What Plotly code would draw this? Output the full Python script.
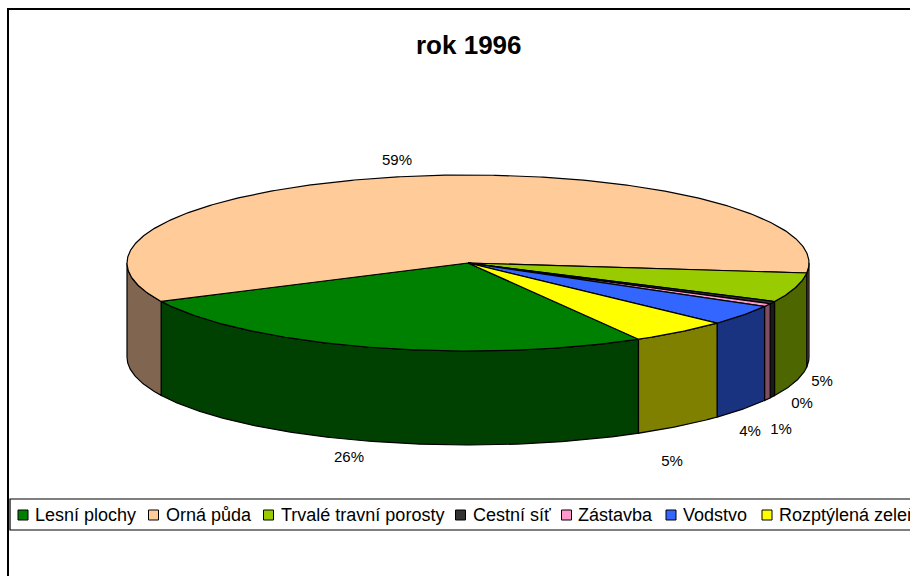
import numpy as np
import plotly.graph_objects as go

title = "rok 1996"
categories = ["Lesní plochy", "Orná půda", "Trvalé travní porosty", "Cestní síť", "Zástavba", "Vodstvo", "Rozptýlená zeleň"]
values = [26.15, 59.0, 5.4, 0.45, 0.55, 3.75, 4.7]
colors = ["#008000", "#FFCC99", "#99CC00", "#333333", "#FF99CC", "#3366FF", "#FFFF00"]
side_colors = ["#004000", "#806650", "#4D6600", "#1A1A1A", "#804D66", "#1A3380", "#808000"]

CX, CY, RX, RY, DEPTH = 468.0, 263.0, 341.0, 88.0, 94.0
START_DEG = 60.0
label_pos = [(349, 458), (397, 161), (822, 382), (802, 404), (781, 430), (750, 432), (672, 462)]
legend_marker_x = [23, 153.5, 268.5, 460.5, 566.5, 671, 767]
legend_text_x = [35, 166, 281, 473, 578, 683, 779]
LEGEND_Y = 515
LEGEND_TEXT_Y = 516

fig = go.Figure()

# outer frame (runs off the right and bottom of the picture)
fig.add_shape(type="rect", x0=8, y0=9, x1=930, y1=600, line=dict(color="#000000", width=2), fillcolor="rgba(0,0,0,0)", layer="below")

vals = np.array(values, dtype=float)
angles = START_DEG + np.concatenate([[0.0], np.cumsum(vals)]) * 360.0 / vals.sum()


def arc(a0, a1, n=None):
    n = n or max(3, int(abs(a1 - a0) * 2))
    t = np.radians(np.linspace(a0, a1, n))
    return CX + RX * np.cos(t), CY + RY * np.sin(t)


def poly(x, y, fill):
    fig.add_trace(go.Scatter(x=list(x) + [x[0]], y=list(y) + [y[0]], mode="lines", fill="toself",
                             fillcolor=fill, line=dict(color="#000000", width=1.2), hoverinfo="skip", showlegend=False))


# side walls: only the front half (0..180 deg, mod 360) is visible
for i in range(len(vals)):
    a0, a1 = angles[i], angles[i + 1]
    for shift in (0, -360):
        s0, s1 = max(a0 + shift, 0), min(a1 + shift, 180)
        if s1 > s0:
            x, y = arc(s0, s1)
            poly(np.concatenate([x, x[::-1]]), np.concatenate([y, y[::-1] + DEPTH]), side_colors[i])

# top faces
for i in range(len(vals)):
    x, y = arc(angles[i], angles[i + 1])
    poly(np.concatenate([[CX], x]), np.concatenate([[CY], y]), colors[i])

# percentage labels
fig.add_trace(go.Scatter(x=[p[0] for p in label_pos], y=[p[1] for p in label_pos], mode="text",
                         text=[f"{round(v):d}%" for v in values], textposition="middle center",
                         textfont=dict(family="Liberation Sans", size=15, color="#000000"),
                         hoverinfo="skip", showlegend=False))

# legend box
fig.add_shape(type="rect", x0=10, y0=499, x1=930, y1=530, line=dict(color="#000000", width=1.2), fillcolor="#FFFFFF", layer="between")
fig.add_trace(go.Scatter(x=legend_marker_x, y=[LEGEND_Y] * len(categories), mode="markers",
                         marker=dict(symbol="square", size=10, color=colors, line=dict(color="#000000", width=1)),
                         hoverinfo="skip", showlegend=False))
fig.add_trace(go.Scatter(x=legend_text_x, y=[LEGEND_TEXT_Y] * len(categories), mode="text", text=categories,
                         textposition="middle right", textfont=dict(family="Liberation Sans", size=18, color="#000000"),
                         hoverinfo="skip", showlegend=False))

fig.add_annotation(x=469, y=45, xref="x", yref="y", text=f"<b>{title}</b>", showarrow=False,
                   font=dict(family="Liberation Sans", size=26, color="#000000"))

fig.update_layout(width=910, height=576, margin=dict(l=0, r=0, t=0, b=0), autosize=False,
                  paper_bgcolor="#FFFFFF", plot_bgcolor="#FFFFFF", showlegend=False,
                  xaxis=dict(range=[0, 910], visible=False, fixedrange=True),
                  yaxis=dict(range=[576, 0], visible=False, fixedrange=True))
fig.write_html("out.html", config=dict(displayModeBar=False),
               post_script="document.body.style.margin='0';document.body.style.overflow='hidden';")
